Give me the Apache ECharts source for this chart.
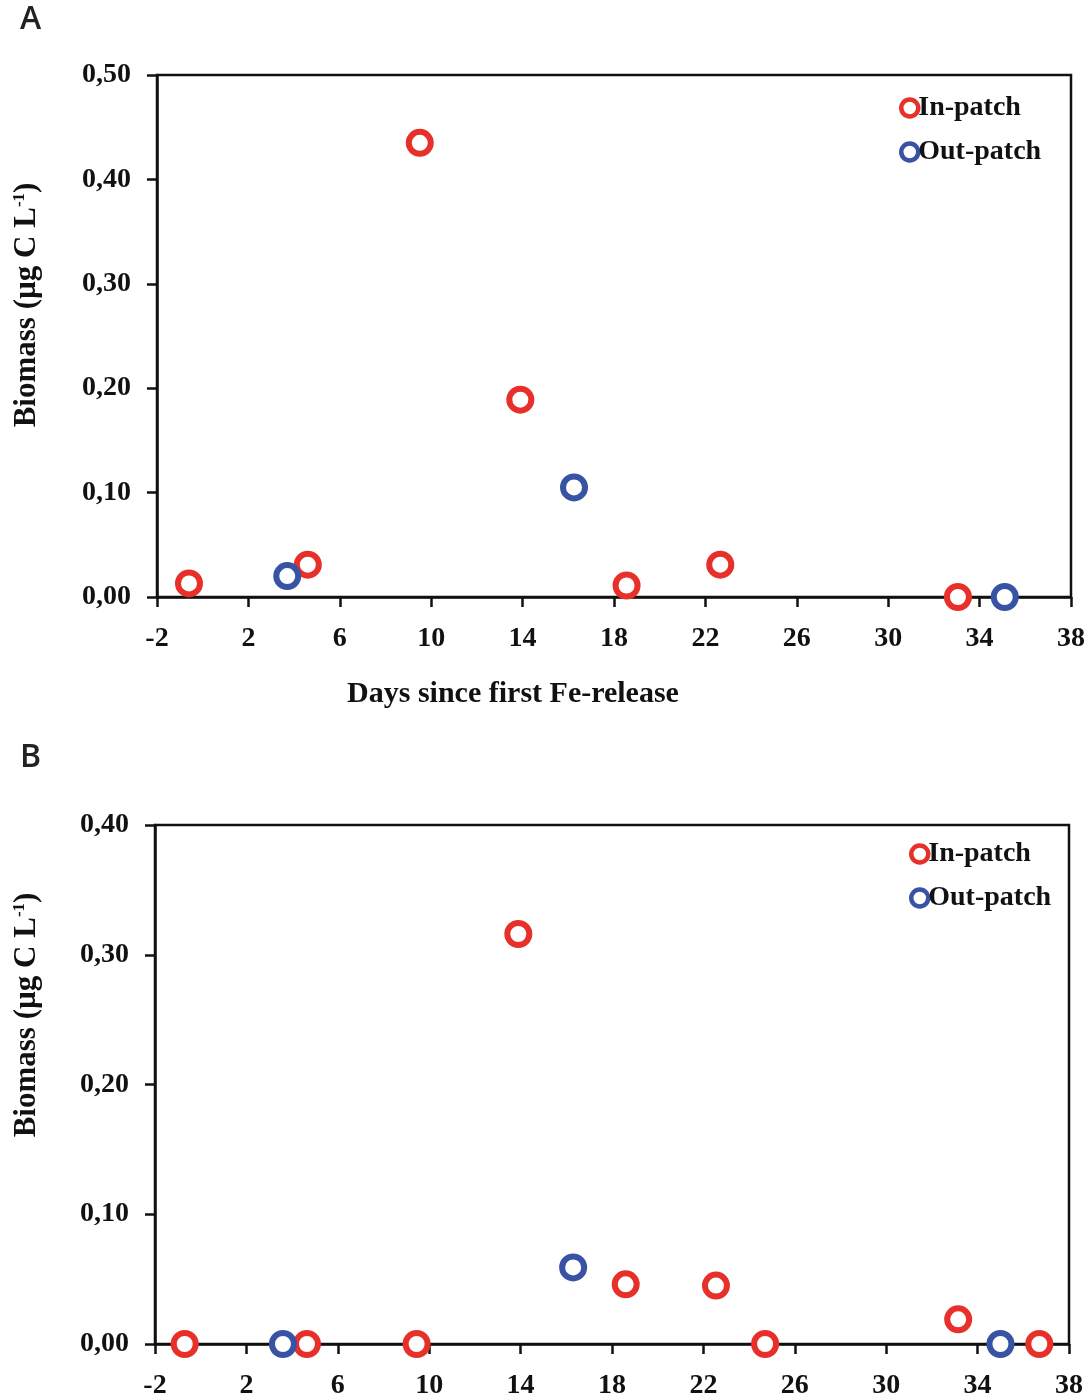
<!DOCTYPE html>
<html>
<head>
<meta charset="utf-8">
<script src="https://cdn.jsdelivr.net/npm/echarts@6/dist/echarts.min.js"></script>
<style>
html,body{margin:0;padding:0;background:#fff;}
#chart{width:1092px;height:1400px;}
</style>
</head>
<body>
<div id="chart"></div>
<script>
// ---- Data ----
const seriesNames = ['In-patch', 'Out-patch'];
// Panel A
const aInDays    = [-0.6, 4.6, 9.5, 13.9, 18.55, 22.65, 33.05];
const aInBiomass = [0.013, 0.031, 0.435, 0.189, 0.011, 0.031, 0.0];
const aOutDays    = [3.7, 16.25, 35.1];
const aOutBiomass = [0.020, 0.105, 0.0];
// Panel B
const bInDays    = [-0.7, 4.65, 9.45, 13.9, 18.6, 22.55, 24.7, 33.15, 36.7];
const bInBiomass = [0.0, 0.0, 0.0, 0.316, 0.046, 0.045, 0.0, 0.019, 0.0];
const bOutDays    = [3.6, 16.3, 35.0];
const bOutBiomass = [0.0, 0.059, 0.0];
// Axes / ticks
const xTickLabels = ['-2','2','6','10','14','18','22','26','30','34','38'];
const yTickLabelsA = ['0,00','0,10','0,20','0,30','0,40','0,50'];
const yTickLabelsB = ['0,00','0,10','0,20','0,30','0,40'];
const xTitle = 'Days since first Fe-release';
const yTitle = 'Biomass (µg C L';
const panelLabels = ['A', 'B'];

// ---- Styling ----
const RED = '#e8302a';
const BLUE = '#3953a4';
const SERIF = '"Liberation Serif","Times New Roman",serif';

function pairs(xs, ys){ return xs.map((x,i)=>[x, ys[i]]); }

function xAxisFor(gi){
  return {
    gridIndex: gi, type:'value', min:-2, max:38, interval:4,
    axisLine:{show:true, onZero:false, lineStyle:{color:'#111', width:2.5}},
    axisTick:{show:true, inside:false, length:10, lineStyle:{color:'#111', width:2.5}},
    splitLine:{show:false},
    axisLabel:{
      margin:28, color:'#111', fontFamily:SERIF, fontWeight:'bold', fontSize:28,
      formatter:(v)=>{ const i = Math.round((v+2)/4); return xTickLabels[i] !== undefined ? xTickLabels[i] : ''; }
    }
  };
}
function yAxisFor(gi, max, labels){
  return {
    gridIndex: gi, type:'value', min:0, max:max, interval:0.1,
    axisLine:{show:true, onZero:false, lineStyle:{color:'#111', width:2.5}},
    axisTick:{show:true, inside:false, length:10, lineStyle:{color:'#111', width:2.5}},
    splitLine:{show:false},
    axisLabel:{
      margin:26, color:'#111', fontFamily:SERIF, fontWeight:'bold', fontSize:28,
      formatter:(v)=>{ const i = Math.round(v/0.1); return labels[i] !== undefined ? labels[i] : ''; }
    }
  };
}
function scatter(name, gi, data, color, z){
  return {
    name, type:'scatter', xAxisIndex:gi, yAxisIndex:gi, data,
    symbol:'circle', symbolSize:22, z:z,
    itemStyle:{color:'#ffffff', borderColor:color, borderWidth:6, opacity:1},
    emphasis:{disabled:true}
  };
}
function legendFor(top, left){
  return {
    top: top, left: left, orient:'vertical', itemGap:16,
    itemWidth:17, itemHeight:17,
    textStyle:{fontFamily:SERIF, fontWeight:'bold', fontSize:28, color:'#111', padding:[0,0,0,-5]},
    data:[
      {name:seriesNames[0], icon:'circle', itemStyle:{color:'#fff', borderColor:RED, borderWidth:4.5}},
      {name:seriesNames[1], icon:'circle', itemStyle:{color:'#fff', borderColor:BLUE, borderWidth:4.5}}
    ],
    selectedMode:false
  };
}
function yName(x, y){
  return {
    type:'text', x:x, y:y, rotation:Math.PI/2,
    style:{
      text: '{m|' + yTitle + '}{s|-1}{m|)}',
      align:'center', verticalAlign:'middle',
      rich:{
        m:{fontFamily:SERIF, fontWeight:'bold', fontSize:31, fill:'#111', verticalAlign:'bottom'},
        s:{fontFamily:SERIF, fontWeight:'bold', fontSize:17, fill:'#111', verticalAlign:'top'}
      }
    }
  };
}

const chart = echarts.init(document.getElementById('chart'), null, {renderer:'canvas'});
chart.setOption({
  animation:false,
  backgroundColor:'#ffffff',
  grid:[
    {left:157, top:75, width:914, height:522, show:true, borderColor:'#111', borderWidth:2.5, backgroundColor:'transparent'},
    {left:155, top:825, width:914, height:520, show:true, borderColor:'#111', borderWidth:2.5, backgroundColor:'transparent'}
  ],
  xAxis:[xAxisFor(0), xAxisFor(1)],
  yAxis:[yAxisFor(0, 0.5, yTickLabelsA), yAxisFor(1, 0.4, yTickLabelsB)],
  legend:[legendFor(89, 894), legendFor(835, 904)],
  series:[
    scatter(seriesNames[0], 0, pairs(aInDays, aInBiomass), RED, 2),
    scatter(seriesNames[1], 0, pairs(aOutDays, aOutBiomass), BLUE, 3),
    scatter(seriesNames[0], 1, pairs(bInDays, bInBiomass), RED, 2),
    scatter(seriesNames[1], 1, pairs(bOutDays, bOutBiomass), BLUE, 3)
  ],
  graphic:[
    {type:'text', left:20, top:4, style:{text:panelLabels[0], fontFamily:'"Open Sans","Noto Sans",sans-serif', fontWeight:600, fontSize:32, fill:'#222'}},
    {type:'text', left:20, top:742, style:{text:panelLabels[1], fontFamily:'"Open Sans","Noto Sans",sans-serif', fontWeight:600, fontSize:32, fill:'#222'}},
    {type:'text', x:513, y:694, style:{text:xTitle, align:'center', verticalAlign:'middle', fontFamily:SERIF, fontWeight:'bold', fontSize:30, fill:'#111'}},
    yName(27, 305),
    yName(27, 1015)
  ]
});
</script>
</body>
</html>
